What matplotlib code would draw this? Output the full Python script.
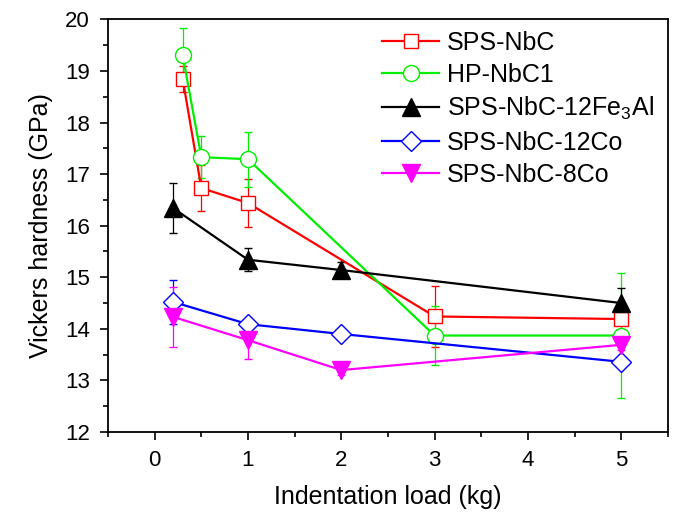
import matplotlib
matplotlib.use("Agg")
import matplotlib.pyplot as plt
from matplotlib.ticker import MultipleLocator

plt.rcParams['font.family'] = ['Liberation Sans', 'DejaVu Sans']
plt.rcParams['mathtext.fontset'] = 'custom'
plt.rcParams['mathtext.rm'] = 'Liberation Sans'
plt.rcParams['mathtext.default'] = 'regular'

# Data
labels = ['SPS-NbC', 'HP-NbC1', 'SPS-NbC-12Fe$_3$Al', 'SPS-NbC-12Co', 'SPS-NbC-8Co']

x_sps_nbc = [0.3, 0.5, 1, 3, 5]
y_sps_nbc = [18.85, 16.73, 16.44, 14.24, 14.19]
e_sps_nbc = [0.25, 0.44, 0.46, 0.60, 0.10]

x_hp_nbc1 = [0.3, 0.5, 1, 3, 5]
y_hp_nbc1 = [19.31, 17.33, 17.29, 13.87, 13.87]
e_hp_nbc1 = [0.52, 0.41, 0.53, 0.57, 1.22]

x_fe3al = [0.2, 1, 2, 5]
y_fe3al = [16.34, 15.34, 15.14, 14.50]
e_fe3al = [0.48, 0.22, 0.15, 0.30]

x_12co = [0.2, 1, 2, 5]
y_12co = [14.52, 14.09, 13.90, 13.36]
e_12co = [0.43, 0.10, 0.10, 0.10]

x_8co = [0.2, 1, 2, 5]
y_8co = [14.23, 13.78, 13.20, 13.69]
e_8co = [0.58, 0.37, 0.10, 0.10]

xticks = [0, 1, 2, 3, 4, 5]
yticks = [12, 13, 14, 15, 16, 17, 18, 19, 20]

series = [
    (x_sps_nbc, y_sps_nbc, e_sps_nbc, '#ff0000', 's', 'white', 10),
    (x_hp_nbc1, y_hp_nbc1, e_hp_nbc1, '#00ee00', 'o', 'white', 11.5),
    (x_fe3al, y_fe3al, e_fe3al, 'black', '^', 'black', 13.5),
    (x_12co, y_12co, e_12co, '#0000ff', 'D', 'white', 10),
    (x_8co, y_8co, e_8co, '#ff00ff', 'v', '#ff00ff', 13),
]

fig = plt.figure(figsize=(6.75, 5.13), dpi=100)
ax = fig.add_axes([0.16, 0.158, 0.8296, 0.804])

for (xs, ys, es, c, m, fc, ms), lab in zip(series, labels):
    ax.errorbar(xs, ys, yerr=es, color=c, marker=m, markersize=ms,
                markerfacecolor=fc, markeredgecolor=c, markeredgewidth=1.0,
                linewidth=1.6, elinewidth=0.9, capsize=3, capthick=0.9,
                ecolor=c, label=lab)

ax.set_xlim(-0.5, 5.5)
ax.set_ylim(12, 20)
ax.set_xticks(xticks)
ax.set_yticks(yticks)
ax.xaxis.set_minor_locator(MultipleLocator(0.5))
ax.yaxis.set_minor_locator(MultipleLocator(0.5))
ax.tick_params(which='major', direction='out', length=6, width=1.2, labelsize=16, pad=7,
               top=False, right=False)
ax.tick_params(which='minor', direction='out', length=3.5, width=1.2, top=False, right=False)
for s in ax.spines.values():
    s.set_linewidth(1.3)

ax.set_xlabel('Indentation load (kg)', fontsize=18, labelpad=10)
ax.set_ylabel('Vickers hardness (GPa)', fontsize=18, labelpad=9)

handles, labs = ax.get_legend_handles_labels()
handles = [h[0] for h in handles]
ax.legend(handles, labs, loc='upper left', bbox_to_anchor=(0.48, 0.985), frameon=False,
          fontsize=18, handlelength=2.3, handletextpad=0.3, labelspacing=0.33,
          borderaxespad=0, borderpad=0.2)

fig.savefig('out.png', dpi=100)
